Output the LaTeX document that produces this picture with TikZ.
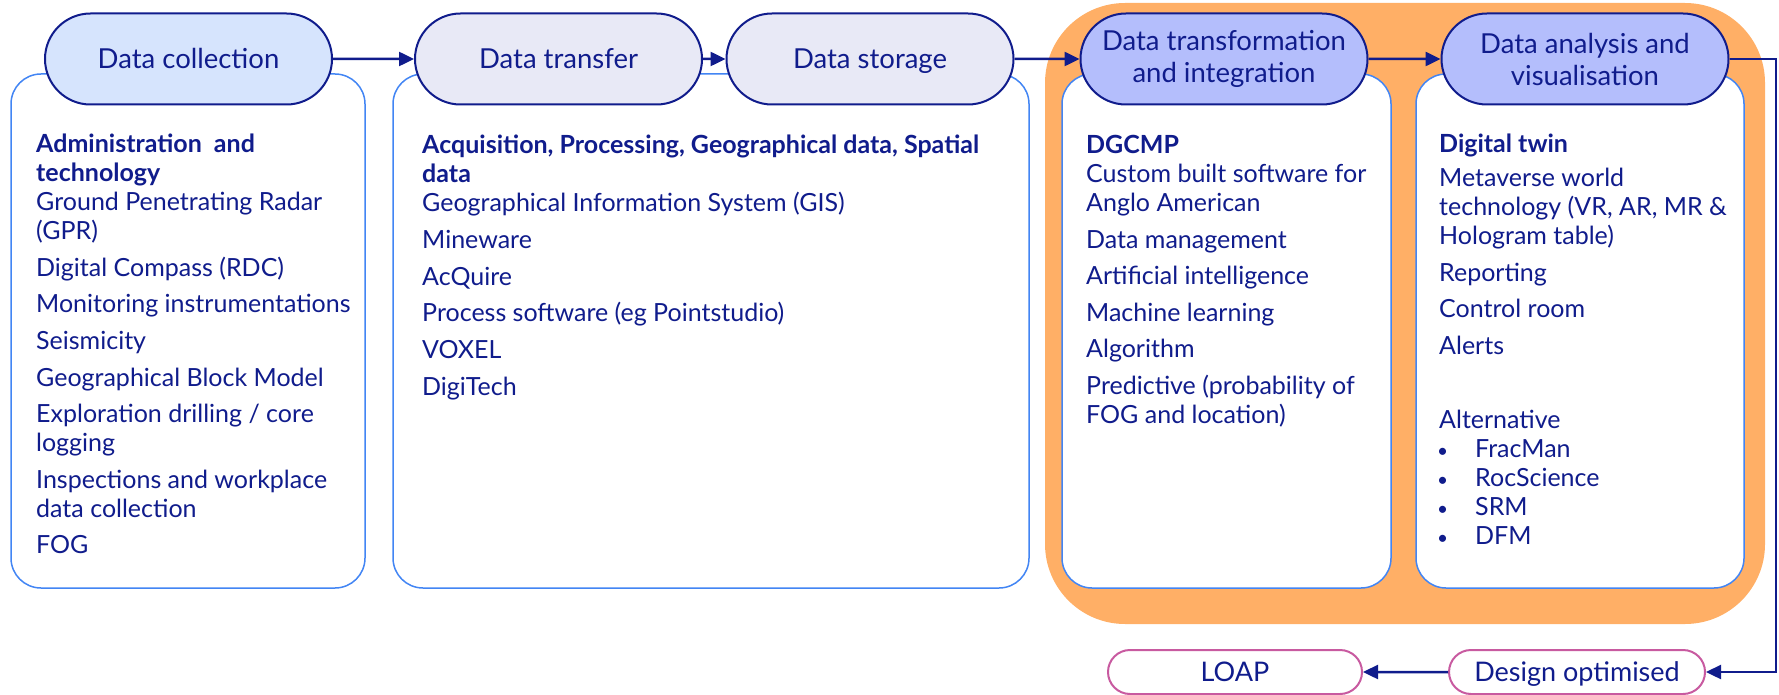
\documentclass[tikz,border=0pt]{standalone}
\usepackage{fontspec}
\setmainfont{Lato}
\usepackage{xcolor}
\usetikzlibrary{shapes.misc}
\usetikzlibrary{arrows.meta}

\definecolor{navy}{RGB}{16,28,140}
\definecolor{panelblue}{RGB}{66,133,244}
\definecolor{hubfill}{RGB}{255,175,102}
\definecolor{collectfill}{RGB}{214,228,253}
\definecolor{movefill}{RGB}{232,233,246}
\definecolor{workfill}{RGB}{180,190,252}
\definecolor{outpink}{RGB}{200,90,160}

\newcommand{\dotitem}[1]{\makebox[36pt][l]{\hspace{-2pt}\fontsize{19}{19}\selectfont •}#1}

\tikzset{
  stage/.style={rounded rectangle, draw=navy, line width=2pt, minimum width=287pt,
    minimum height=91pt, inner sep=0pt, text=navy, align=center,
    font=\fontsize{27.5}{32}\selectfont},
  oneline/.style={text height=19.5pt, text depth=0pt},
  panel/.style={rectangle, rounded corners=30pt, draw=panelblue, line width=1.5pt,
    fill=white, inner sep=0pt, minimum height=514pt},
  items/.style={anchor=north west, inner sep=0pt, align=left, text=navy,
    font=\fontsize{25}{29}\selectfont},
  flow/.style={draw=navy, line width=2.5pt, -{Triangle[length=15pt,width=14pt]}},
  outcome/.style={rounded rectangle, draw=outpink, line width=2pt, minimum height=44pt,
    inner sep=0pt, text=navy, font=\fontsize{27}{31}\selectfont, oneline}
}

\begin{document}
\begin{tikzpicture}[x=1pt,y=-1pt]
    \useasboundingbox (0,0) rectangle (1779,695);
    % orange area behind the last two stages
    \path (1405,313.5) node [rectangle, rounded corners=80pt, fill=hubfill,
	minimum width=720pt, minimum height=621pt] (hub) {};

    % content panels
    \path (188,331) node [panel, minimum width=354pt] (bc) {};
    \path (711,331) node [panel, minimum width=636pt] (bt) {};
    \path (1226.5,331) node [panel, minimum width=329pt] (bi) {};
    \path (1580,331) node [panel, minimum width=328pt] (ba) {};

    % stages
    \path (188.5,59) node [stage, oneline, fill=collectfill] (dc) {Data collection};
    \path (558.5,59) node [stage, oneline, fill=movefill] (dt) {Data transfer};
    \path (870,59) node [stage, oneline, fill=movefill] (ds) {Data storage};
    \path (1224,59) node [stage, fill=workfill] (di)
	{Data transformation\\ and integration};
    \path (1585,59) node [stage, fill=workfill] (da)
	{Data analysis and\\ visualisation};
    \draw [flow] (dc) -- (dt);
    \draw [flow] (dt) -- (ds);
    \draw [flow] (ds) -- (di);
    \draw [flow] (di) -- (da);

    % panel texts
    \path (36,134) node [items] (tc) {\textbf{Administration\ \ and}\\
	\textbf{technology}\\ Ground Penetrating Radar\\ (GPR)\\[7.6pt]
	Digital Compass (RDC)\\[7.6pt] Monitoring instrumentations\\[7.6pt]
	Seismicity\\[7.6pt] Geographical Block Model\\[7.6pt]
	Exploration drilling / core\\ logging\\[7.6pt]
	Inspections and workplace\\ data collection\\[7.6pt] FOG};
    \path (422,135) node [items] (tt) {\textbf{Acquisition, Processing,
	Geographical data, Spatial}\\ \textbf{data}\\
	Geographical Information System (GIS)\\[8pt] Mineware\\[7.6pt]
	AcQuire\\[7.6pt] Process software (eg Pointstudio)\\[7.6pt]
	VOXEL\\[7.6pt] DigiTech};
    \path (1086,135) node [items] (ti) {\textbf{DGCMP}\\
	Custom built software for\\ Anglo American\\[7.6pt]
	Data management\\[7.6pt] Artificial intelligence\\[7.6pt]
	Machine learning\\[7.6pt] Algorithm\\[7.6pt]
	Predictive (probability of\\ FOG and location)};
    \path (1439,134) node [items] (ta) {\textbf{Digital twin}\\[5pt]
	Metaverse world\\ technology (VR, AR, MR \&\\ Hologram table)\\[7.6pt]
	Reporting\\[7.6pt] Control room\\[7.6pt] Alerts\\[45pt]
	Alternative\\ \dotitem{FracMan}\\ \dotitem{RocScience}\\
	\dotitem{SRM}\\ \dotitem{DFM}};

    % outcomes
    \path (1577,672) node [outcome, minimum width=256pt] (dop) {Design optimised};
    \path (1235,672) node [outcome, minimum width=254pt] (lo) {LOAP};
    \coordinate (turn) at (1776,0);
    \draw [flow] (da.east) -- (da.east -| turn) |- (dop.east);
    \draw [flow] (dop) -- (lo);
\end{tikzpicture}
\end{document}
